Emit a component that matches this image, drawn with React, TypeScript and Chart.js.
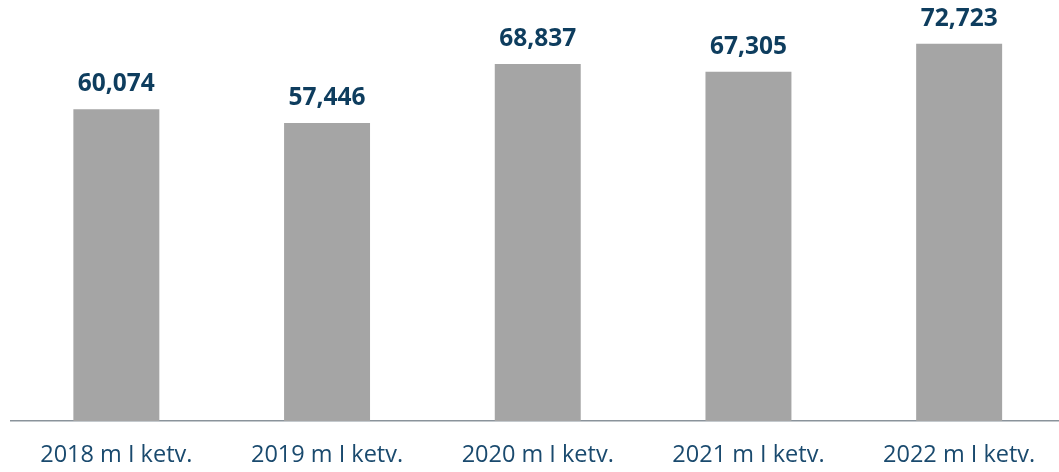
import React, { useEffect, useRef } from "react";
import { Chart, registerables } from "chart.js";

Chart.register(...registerables);

const categories = ["2018 m I ketv.", "2019 m I ketv.", "2020 m I ketv.", "2021 m I ketv.", "2022 m I ketv."];
const values = [60074, 57446, 68837, 67305, 72723];

const FONT = "'Open Sans', sans-serif";

const dataLabelPlugin = {
  id: "dataLabels",
  afterDatasetsDraw(chart: any) {
    const ctx = chart.ctx;
    const meta = chart.getDatasetMeta(0);
    ctx.save();
    ctx.font = `bold 24.5px ${FONT}`;
    ctx.fillStyle = "#0E3D5E";
    ctx.textAlign = "center";
    ctx.textBaseline = "alphabetic";
    meta.data.forEach((bar: any, i: number) => {
      const v = chart.data.datasets[0].data[i] as number;
      ctx.fillText(v.toLocaleString("en-US"), bar.x, bar.y - 18);
    });
    ctx.restore();
  },
};

export default function App() {
  const ref = useRef<HTMLCanvasElement | null>(null);
  useEffect(() => {
    if (!ref.current) return;
    const chart = new Chart(ref.current, {
      type: "bar",
      data: {
        labels: categories,
        datasets: [
          {
            data: values,
            backgroundColor: "#A5A5A5",
            borderWidth: 0,
            barPercentage: 0.408,
            categoryPercentage: 1,
          },
        ],
      },
      options: {
        responsive: false,
        animation: false,
        devicePixelRatio: 1,
        layout: { padding: { left: 11, right: 1.5, top: 6, bottom: 0 } },
        plugins: { legend: { display: false }, tooltip: { enabled: false } },
        scales: {
          x: {
            grid: { display: false, drawTicks: false },
            border: { display: true, color: "#8A939B", width: 1.5 },
            ticks: {
              color: "#1A4A6E",
              font: { family: FONT, size: 23.5 },
              padding: 20,
              maxRotation: 0,
              autoSkip: false,
            },
            afterFit: (axis: any) => {
              axis.height = 51;
            },
          },
          y: {
            display: false,
            min: 0,
            max: 80000,
          },
        },
      },
      plugins: [dataLabelPlugin],
    });
    return () => chart.destroy();
  }, []);
  return (
    <div style={{ position: "absolute", left: 0, top: 0, width: 1059, height: 472, overflow: "hidden", background: "#fff" }}>
      <canvas ref={ref} width={1066} height={472} style={{ display: "block", width: 1066, height: 472 }} />
    </div>
  );
}
